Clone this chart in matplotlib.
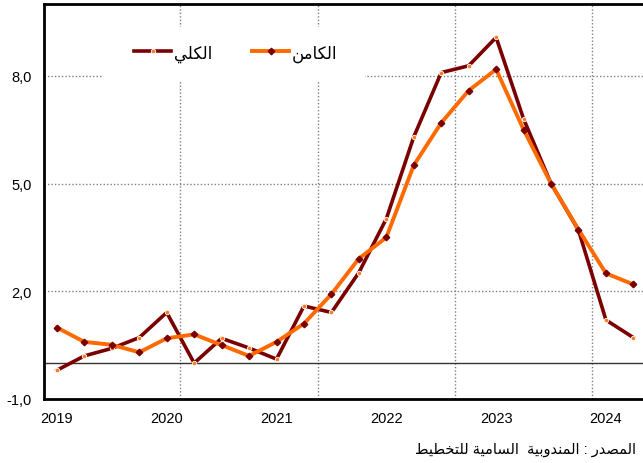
import matplotlib
matplotlib.use("Agg")
import matplotlib.pyplot as plt
from matplotlib.patches import Rectangle

plt.rcParams["font.family"] = ["Liberation Sans", "DejaVu Sans"]

# quarterly values, 2019 Q1 .. 2024 Q2
quarters = list(range(22))
total = [-0.2, 0.2, 0.41, 0.71, 1.41, 0.0, 0.69, 0.42, 0.11, 1.59, 1.41, 2.52,
         4.02, 6.3, 8.09, 8.28, 9.07, 6.8, 5.0, 3.7, 1.2, 0.71]
core = [0.99, 0.59, 0.51, 0.3, 0.69, 0.8, 0.5, 0.2, 0.59, 1.1, 1.92, 2.91,
        3.5, 5.51, 6.69, 7.59, 8.18, 6.5, 5.0, 3.72, 2.5, 2.19]
year_ticks = [0, 4, 8, 12, 16, 20]
year_labels = ["2019", "2020", "2021", "2022", "2023", "2024"]
y_ticks = [-1, 2, 5, 8]
y_labels = ["-1,0", "2,0", "5,0", "8,0"]
vgrid = [4.5, 9.5, 14.5, 19.5]

label_total = "الكلي"
label_core = "الكامن"
source = "المصدر : المندوبية  السامية للتخطيط"

# arabic shaping (isolated, final, initial, medial); 2-tuples join only to the right
forms = {
    "ا": (0xFE8D, 0xFE8E), "ب": (0xFE8F, 0xFE90, 0xFE91, 0xFE92),
    "ة": (0xFE93, 0xFE94), "ت": (0xFE95, 0xFE96, 0xFE97, 0xFE98),
    "خ": (0xFEA5, 0xFEA6, 0xFEA7, 0xFEA8), "د": (0xFEA9, 0xFEAA),
    "ر": (0xFEAD, 0xFEAE), "س": (0xFEB1, 0xFEB2, 0xFEB3, 0xFEB4),
    "ص": (0xFEB9, 0xFEBA, 0xFEBB, 0xFEBC), "ط": (0xFEC1, 0xFEC2, 0xFEC3, 0xFEC4),
    "ك": (0xFED9, 0xFEDA, 0xFEDB, 0xFEDC), "ل": (0xFEDD, 0xFEDE, 0xFEDF, 0xFEE0),
    "م": (0xFEE1, 0xFEE2, 0xFEE3, 0xFEE4), "ن": (0xFEE5, 0xFEE6, 0xFEE7, 0xFEE8),
    "و": (0xFEED, 0xFEEE), "ي": (0xFEF1, 0xFEF2, 0xFEF3, 0xFEF4),
}


def shape(s):
    out = []
    for i, c in enumerate(s):
        if c not in forms:
            out.append(c)
            continue
        prev = s[i - 1] if i > 0 else ""
        nxt = s[i + 1] if i + 1 < len(s) else ""
        join_prev = prev in forms and len(forms[prev]) == 4
        join_next = len(forms[c]) == 4 and nxt in forms
        f = forms[c]
        if join_prev and join_next:
            out.append(chr(f[3]))
        elif join_prev:
            out.append(chr(f[1]))
        elif join_next:
            out.append(chr(f[2]))
        else:
            out.append(chr(f[0]))
    return "".join(out)[::-1]


fig = plt.figure(figsize=(6.43, 4.64), dpi=100)
ax = fig.add_axes([44 / 643, 1 - 400 / 464, 1 - 44 / 643, 395 / 464])

for x in vgrid:
    ax.axvline(x, color="#808080", lw=1, ls=(0, (1, 1.5)), zorder=1)
for y in [2, 5, 8]:
    ax.axhline(y, color="#808080", lw=1, ls=(0, (1, 1.5)), zorder=1)
ax.axhline(0, color="#333333", lw=1, zorder=2)

ax.add_patch(Rectangle((0.0985, 0.805), 0.4375, 0.137, transform=ax.transAxes,
                       facecolor="white", edgecolor="none", zorder=1.5))

ax.plot(quarters, total, color="#7a0000", lw=2.6, marker="o", ms=3.2,
        mfc="#ff7a1a", mec="white", mew=0.6, zorder=3, label=shape(label_total))
ax.plot(quarters, core, color="#ff6a00", lw=2.8, marker="D", ms=3.3,
        mfc="#7a0000", mec="#7a0000", zorder=4, label=shape(label_core))

ax.set_xlim(-0.47, 21.35)
ax.set_ylim(-1, 10)
ax.set_xticks(year_ticks)
ax.set_xticklabels(year_labels)
ax.set_yticks(y_ticks)
ax.set_yticklabels(y_labels)
ax.tick_params(length=0, labelsize=10.5, pad=9)

for side in ["left", "bottom", "top"]:
    ax.spines[side].set_linewidth(2)
    ax.spines[side].set_color("black")
ax.spines["right"].set_visible(False)

ax.legend(loc="center", bbox_to_anchor=(0.3205, 0.876), ncol=2, frameon=False,
          fontsize=12, handlelength=2.2, handletextpad=0.18, columnspacing=2.4)

fig.text(636 / 643, 1 - 450 / 464, shape(source), ha="right", va="center",
         fontsize=10.5)

fig.savefig("out.png", dpi=100)
